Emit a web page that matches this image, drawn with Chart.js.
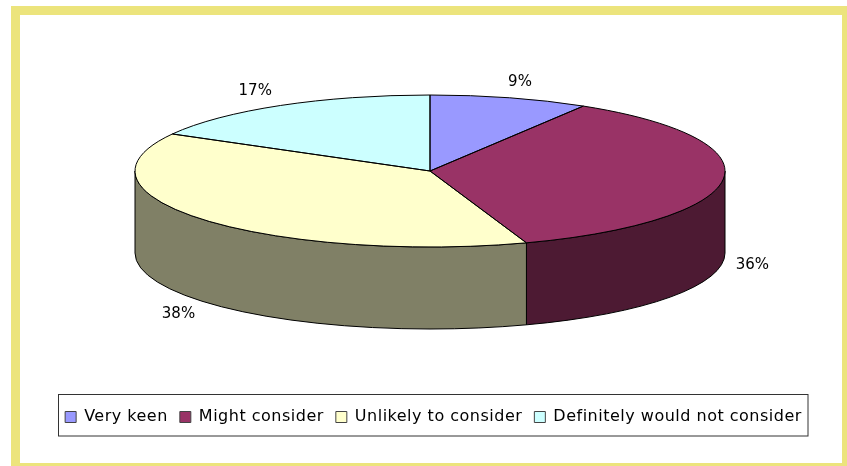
<!DOCTYPE html>
<html>
<head>
<meta charset="utf-8">
<script src="https://cdn.jsdelivr.net/npm/chart.js@4/dist/chart.umd.min.js"></script>
<style>
  html, body { margin: 0; padding: 0; background: #fff; overflow: hidden; }
  #frame { position: absolute; left: 11px; top: 6px; width: 836px; height: 460px; box-sizing: border-box;
           border: solid #ece47c; border-width: 9px 5px 3px 9px; }
  #chart { position: absolute; left: 0; top: 0; }
</style>
</head>
<body>
<div id="frame"></div>
<canvas id="chart" width="847" height="466"></canvas>
<script>
const categories = ['Very keen', 'Might consider', 'Unlikely to consider', 'Definitely would not consider'];
const shares = [8.7, 36, 38.4, 16.9];
const topColors = ['#9999ff', '#993366', '#ffffcc', '#ccffff'];
const sideColors = ['#4d4d80', '#4d1a33', '#808066', '#668080'];

// ellipse the pie is squashed onto
const CX = 430, CY = 171, RX = 295, RY = 76, DEPTH = 82;

// small shifts so percent labels sit where the original put them
const labelNudgeX = [0, -9, 4, -6];

function slicePath(ctx, a0, a1) {
    ctx.beginPath();
    ctx.moveTo(CX, CY);
    ctx.ellipse(CX, CY, RX, RY, 0, a0, a1);
    ctx.closePath();
}

const pie3d = {
    id: 'pie3d',
    beforeUpdate(chart) {
        // legend text in the original is spaced out a bit, has to be set before the legend measures it
        chart.ctx.letterSpacing = '0.5px';
    },
    beforeDraw(chart) {
        // legend box
        const ctx = chart.ctx;
        ctx.letterSpacing = '0.5px';
        ctx.save();
        ctx.strokeStyle = '#333';
        ctx.lineWidth = 1;
        ctx.strokeRect(58.5, 394.5, 749.5, 41.5);
        ctx.restore();
    },
    beforeDatasetDraw(chart) {
        const ctx = chart.ctx;
        const arcs = chart.getDatasetMeta(0).data;

        // side wall, only the part facing us (canvas angles 0..PI)
        ctx.save();
        ctx.strokeStyle = '#000';
        ctx.lineWidth = 1;
        arcs.forEach((arc, i) => {
            const a0 = Math.max(arc.startAngle, 0);
            const a1 = Math.min(arc.endAngle, Math.PI);
            if (a1 <= a0) return;
            ctx.beginPath();
            ctx.ellipse(CX, CY, RX, RY, 0, a0, a1);
            ctx.ellipse(CX, CY + DEPTH, RX, RY, 0, a1, a0, true);
            ctx.closePath();
            ctx.fillStyle = sideColors[i];
            ctx.fill();
            ctx.stroke();
        });
        ctx.restore();

        // the library draws the top face through this squash
        const first = arcs[0];
        ctx.save();
        ctx.translate(CX, CY);
        ctx.scale(1, RY / RX);
        ctx.translate(-first.x, -first.y);
    },
    afterDatasetDraw(chart) {
        const ctx = chart.ctx;
        ctx.restore();
        const arcs = chart.getDatasetMeta(0).data;

        ctx.save();
        ctx.strokeStyle = '#000';
        ctx.lineWidth = 1;
        arcs.forEach(arc => {
            slicePath(ctx, arc.startAngle, arc.endAngle);
            ctx.stroke();
        });

        // percent labels
        ctx.fillStyle = '#000';
        ctx.font = '15px "DejaVu Sans"';
        ctx.letterSpacing = '0px';
        ctx.textAlign = 'center';
        ctx.textBaseline = 'middle';
        arcs.forEach((arc, i) => {
            const mid = (arc.startAngle + arc.endAngle) / 2;
            const x = CX + RX * 1.13 * Math.cos(mid) + labelNudgeX[i];
            let y = CY + RY * 1.22 * Math.sin(mid);
            if (Math.sin(mid) > 0) y += DEPTH + 2;
            ctx.fillText(Math.round(shares[i]) + '%', x, y);
        });
        ctx.restore();
    }
};

new Chart(document.getElementById('chart'), {
    type: 'pie',
    data: {
        labels: categories,
        datasets: [{
            data: shares,
            backgroundColor: topColors,
            borderWidth: 0,
            clip: false
        }]
    },
    plugins: [pie3d],
    options: {
        responsive: false,
        animation: false,
        radius: RX,
        layout: { padding: { left: 20, bottom: 31 } },
        plugins: {
            tooltip: { enabled: false },
            legend: {
                position: 'bottom',
                labels: {
                    color: '#111',
                    boxWidth: 11,
                    boxHeight: 11,
                    padding: 12,
                    font: { family: '"DejaVu Sans"', size: 16 },
                    generateLabels(chart) {
                        return categories.map((name, i) => ({
                            text: name,
                            fillStyle: topColors[i],
                            strokeStyle: '#444',
                            lineWidth: 1,
                            index: i
                        }));
                    }
                }
            }
        }
    }
});
</script>
</body>
</html>
